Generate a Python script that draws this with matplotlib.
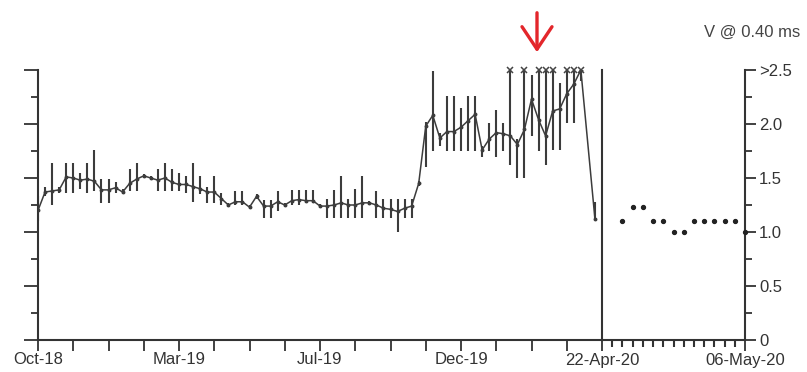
import matplotlib
matplotlib.use("Agg")
import matplotlib.pyplot as plt
import numpy as np

# ── weekly series (Oct-18 .. 22-Apr-20), week index from Oct-18 ──────────
weeks = list(range(0, 78)) + [79]
values = [
    1.20, 1.37, 1.38, 1.39, 1.51, 1.50, 1.48, 1.49, 1.47, 1.39,
    1.39, 1.41, 1.37, 1.45, 1.49, 1.52, 1.50, 1.48, 1.50, 1.46,
    1.44, 1.44, 1.42, 1.40, 1.37, 1.37, 1.31, 1.25, 1.28, 1.28,
    1.23, 1.33, 1.24, 1.24, 1.28, 1.25, 1.29, 1.30, 1.29, 1.29,
    1.24, 1.24, 1.25, 1.27, 1.25, 1.25, 1.27, 1.27, 1.25, 1.22,
    1.21, 1.19, 1.22, 1.24, 1.45, 1.98, 2.08, 1.87, 1.93, 1.93,
    1.97, 2.03, 2.09, 1.76, 1.86, 1.92, 1.91, 1.89, 1.81, 1.95,
    2.23, 2.04, 1.89, 2.12, 2.14, 2.28, 2.37, 2.50, 1.12,
]
range_lo = [
    1.10, 1.33, 1.25, 1.36, 1.36, 1.36, 1.40, 1.36, 1.38, 1.27,
    1.27, 1.36, 1.35, 1.38, 1.38, 1.50, 1.48, 1.38, 1.38, 1.38,
    1.38, 1.36, 1.28, 1.35, 1.27, 1.27, 1.25, 1.23, 1.25, 1.25,
    1.21, 1.31, 1.13, 1.13, 1.19, 1.23, 1.25, 1.25, 1.27, 1.27,
    1.22, 1.13, 1.13, 1.13, 1.13, 1.13, 1.13, 1.25, 1.13, 1.13,
    1.13, 1.00, 1.13, 1.13, 1.43, 1.60, 1.75, 1.80, 1.75, 1.75,
    1.75, 1.75, 1.75, 1.69, 1.75, 1.69, 1.75, 1.62, 1.50, 1.50,
    1.89, 1.75, 1.62, 1.76, 1.76, 2.01, 2.01, 2.40, 1.12,
]
range_hi = [
    1.33, 1.42, 1.64, 1.42, 1.64, 1.64, 1.55, 1.64, 1.76, 1.49,
    1.49, 1.46, 1.40, 1.58, 1.64, 1.54, 1.52, 1.58, 1.64, 1.58,
    1.55, 1.52, 1.64, 1.52, 1.42, 1.52, 1.36, 1.27, 1.38, 1.38,
    1.25, 1.35, 1.30, 1.30, 1.38, 1.27, 1.39, 1.39, 1.39, 1.39,
    1.26, 1.31, 1.39, 1.52, 1.31, 1.40, 1.52, 1.29, 1.38, 1.31,
    1.31, 1.31, 1.31, 1.31, 1.47, 2.02, 2.49, 1.92, 2.26, 2.26,
    2.15, 2.26, 2.26, 1.80, 2.01, 2.13, 2.01, 2.60, 1.86, 2.60,
    2.45, 2.60, 2.60, 2.60, 2.38, 2.60, 2.60, 2.60, 1.28,
]

# ── daily readings after 22-Apr-20 (day index from 22-Apr-20) ─────────────
days = list(range(2, 15))
daily_values = [1.10, 1.23, 1.23, 1.10, 1.10, 1.00, 1.00,
                1.10, 1.10, 1.10, 1.10, 1.10, 1.00]

week_ticks = [0, 20, 40, 60, 80]
week_labels = ["Oct-18", "Mar-19", "Jul-19", "Dec-19", "22-Apr-20"]
y_ticks = [0, 0.5, 1.0, 1.5, 2.0, 2.5]
y_labels = ["0", "0.5", "1.0", "1.5", "2.0", ">2.5"]
Y_CAP = 2.5

INK = "#333333"
LINE = "#3c3c3c"
RED = "#e3262b"

plt.rcParams["font.family"] = ["Liberation Sans", "DejaVu Sans"]

fig = plt.figure(figsize=(8.07, 3.72), dpi=100)
W, H = 807, 372
bottom, top = 340, 70
ax1 = fig.add_axes([38 / W, (H - bottom) / H, (602 - 38) / W, (bottom - top) / H])
ax2 = fig.add_axes([602 / W, (H - bottom) / H, (745 - 602) / W, (bottom - top) / H])
ax2.patch.set_alpha(0)

# weekly panel: range bars, line with small dots, over-range crosses
lo = np.array(range_lo)
hi = np.array(range_hi)
ax1.vlines(weeks, lo, np.minimum(hi, Y_CAP), color=LINE, lw=1.5, zorder=2)
ax1.plot(weeks, values, color=LINE, lw=1.1, marker="o", ms=1.8, zorder=3)
over = hi > Y_CAP
ax1.plot(np.array(weeks)[over], np.full(over.sum(), Y_CAP), "x",
         color="#444444", ms=4.5, mew=1.1, clip_on=False, zorder=4)

ax1.set_xlim(0, 80)
ax1.set_ylim(0, Y_CAP)
ax1.set_xticks(np.arange(0, 81, 5))
ax1.set_xticklabels([week_labels[week_ticks.index(t)] if t in week_ticks else ""
                     for t in range(0, 81, 5)])
ax1.set_yticks(y_ticks)
ax1.set_yticks(np.arange(0.25, 2.5, 0.5), minor=True)
ax1.tick_params(axis="y", which="major", direction="out", length=10, width=1.3,
                color=INK, labelleft=False)
ax1.tick_params(axis="y", which="minor", direction="out", length=5, width=1.3,
                color=INK)
ax1.tick_params(axis="x", direction="out", length=8, width=1.3, color=INK,
                labelsize=12, labelcolor=INK, pad=1)
ax1.spines["top"].set_visible(False)
for side in ("left", "bottom", "right"):
    ax1.spines[side].set_color(INK)
    ax1.spines[side].set_linewidth(1.5)

# daily panel
ax2.plot(days, daily_values, "o", color="#222222", ms=2.8, clip_on=False, zorder=3)
ax2.set_xlim(0, 14)
ax2.set_ylim(0, Y_CAP)
ax2.set_xticks([14])
ax2.set_xticklabels(["06-May-20"])
ax2.set_xticks(range(1, 14), minor=True)
ax2.tick_params(axis="x", which="major", direction="out", length=8, width=1.3,
                color=INK, labelsize=12, labelcolor=INK, pad=1)
ax2.tick_params(axis="x", which="minor", direction="out", length=5, width=1.5,
                color=INK)
ax2.yaxis.tick_right()
ax2.set_yticks(y_ticks)
ax2.set_yticklabels(y_labels)
ax2.set_yticks(np.arange(0.25, 2.5, 0.5), minor=True)
ax2.tick_params(axis="y", which="major", direction="out", length=8, width=1.3,
                color=INK, labelsize=12, labelcolor=INK, pad=2)
ax2.tick_params(axis="y", which="minor", direction="out", length=5, width=1.3,
                color=INK)
ax2.spines["top"].set_visible(False)
ax2.spines["left"].set_visible(False)
for side in ("bottom", "right"):
    ax2.spines[side].set_color(INK)
    ax2.spines[side].set_linewidth(1.5)

fig.text(800 / W, 1 - 32 / H, "V @ 0.40 ms", ha="right", va="center",
         fontsize=12, color="#444444")

# red marker arrow above the peak weeks
fig.add_artist(matplotlib.patches.FancyArrowPatch(
    (537 / W, 1 - 10 / H), (537 / W, 1 - 55 / H), transform=fig.transFigure,
    arrowstyle="->,head_length=0.9,head_width=0.6", mutation_scale=18,
    color=RED, lw=2.4))

fig.savefig("out.png", dpi=100)
